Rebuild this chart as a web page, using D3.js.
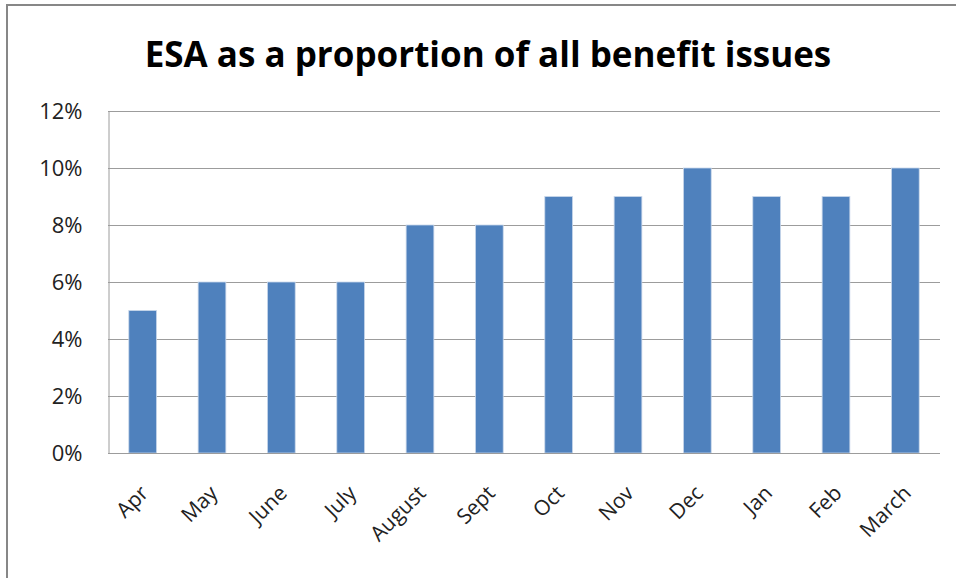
<!DOCTYPE html>
<html>
<head>
<meta charset="utf-8">
<script src="https://cdn.jsdelivr.net/npm/d3@7"></script>
<style>
html, body { margin: 0; padding: 0; background: #fff; }
svg { display: block; }
</style>
</head>
<body>
<svg id="chart" width="956" height="578"></svg>
<script>
const categories = ["Apr", "May", "June", "July", "August", "Sept", "Oct", "Nov", "Dec", "Jan", "Feb", "March"];
const values = [5, 6, 6, 6, 8, 8, 9, 9, 10, 9, 9, 10];
const yTicks = [0, 2, 4, 6, 8, 10, 12];
const title = "ESA as a proportion of all benefit issues";

(function () {
const svg = d3.select("#chart");
const W = 956, H = 578;
const pLeft = 108, pRight = 940, pTop = 111, pBottom = 453;
const font = "'Open Sans', 'Liberation Sans', sans-serif";

// outer chart border (clipped at right/bottom like the reference)
svg.append("rect")
  .attr("x", 7).attr("y", 5)
  .attr("width", W + 20).attr("height", H + 20)
  .attr("fill", "#fff")
  .attr("stroke", "#878787")
  .attr("stroke-width", 2);

// title
svg.append("text")
  .attr("x", 488).attr("y", 67)
  .attr("text-anchor", "middle")
  .attr("font-family", font)
  .attr("font-weight", "bold")
  .attr("font-size", 35)
  .attr("fill", "#000")
  .text(title);

const x = d3.scaleBand().domain(categories).range([pLeft, pRight]).paddingInner(0.6).paddingOuter(0.3);
const y = d3.scaleLinear().domain([0, 12]).range([pBottom, pTop]);

// gridlines
svg.append("g")
  .selectAll("line")
  .data(yTicks)
  .join("line")
  .attr("x1", pLeft).attr("x2", pRight)
  .attr("y1", d => Math.round(y(d)) + 0.5)
  .attr("y2", d => Math.round(y(d)) + 0.5)
  .attr("stroke", "#9c9c9c")
  .attr("stroke-width", 1);

// bars
svg.append("g")
  .selectAll("rect")
  .data(categories.map((c, i) => ({ c, v: values[i] })))
  .join("rect")
  .attr("x", d => x(d.c))
  .attr("y", d => y(d.v))
  .attr("width", x.bandwidth())
  .attr("height", d => pBottom - y(d.v))
  .attr("fill", "#4f81bd")
  .attr("stroke", "#c9d7ea")
  .attr("stroke-width", 0.8);

// y axis
const yAxis = d3.axisLeft(y).tickValues(yTicks).tickSize(0).tickPadding(26).tickFormat(d => d + "%");
const gy = svg.append("g").attr("transform", `translate(${pLeft + 0.5},0)`).call(yAxis);
gy.select(".domain").attr("stroke", "#9c9c9c");
gy.selectAll("text")
  .attr("font-family", font)
  .attr("font-size", 22)
  .attr("fill", "#222");

// x axis
const xAxis = d3.axisBottom(x).tickSize(0).tickPadding(0);
const gx = svg.append("g").attr("transform", `translate(0,${pBottom + 0.5})`).call(xAxis);
gx.select(".domain").attr("stroke", "#9c9c9c").attr("d", `M${pLeft},0H${pRight}`);
gx.selectAll("text")
  .attr("font-family", font)
  .attr("font-size", 21)
  .attr("fill", "#222")
  .attr("text-anchor", "end")
  .attr("dy", 0)
  .attr("y", 0)
  .attr("transform", "translate(7,41) rotate(-45)");
})();
</script>
</body>
</html>
